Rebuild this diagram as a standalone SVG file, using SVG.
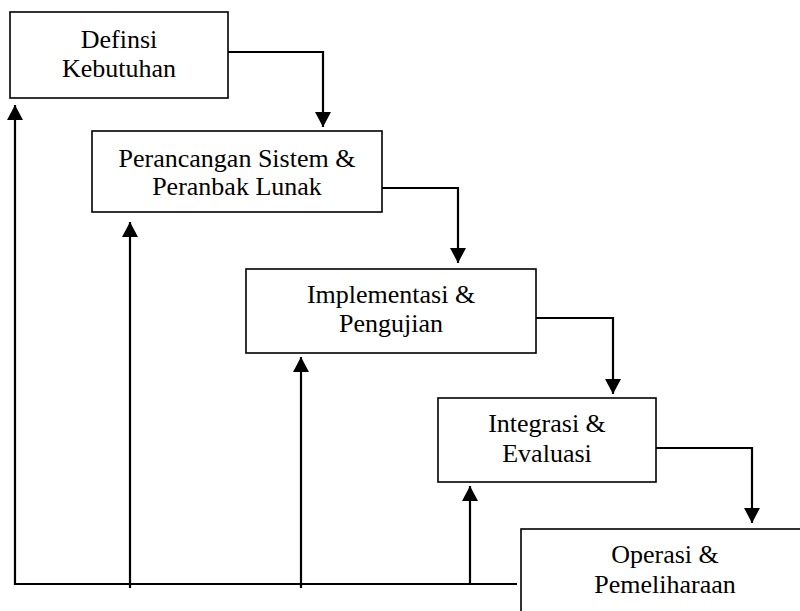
<svg xmlns="http://www.w3.org/2000/svg" width="800" height="611" viewBox="0 0 800 611">
<style>
.box{fill:#fff;stroke:#000;stroke-width:1.6}
.lbl{font-family:"Liberation Serif","Times New Roman",serif;font-size:26px;fill:#000;text-anchor:middle}
.con{fill:none;stroke:#000;stroke-width:2.2}
</style>
<defs>
<marker id="ah" viewBox="0 0 15 16" markerWidth="15" markerHeight="16" refX="15" refY="8" orient="auto" markerUnits="userSpaceOnUse">
<path d="M0,0 L15,8 L0,16 z" fill="#000"/>
</marker>
</defs>
<rect width="800" height="611" fill="#fff"/>
<g id="n1">
<rect class="box" x="10" y="12" width="218" height="86"/>
<text class="lbl" x="119" y="48">Definsi</text>
<text class="lbl" x="119" y="77">Kebutuhan</text>
</g>
<g id="n2">
<rect class="box" x="92" y="131" width="290" height="81"/>
<text class="lbl" x="237" y="167">Perancangan Sistem &amp;</text>
<text class="lbl" x="237" y="195">Peranbak Lunak</text>
</g>
<g id="n3">
<rect class="box" x="246" y="269" width="290" height="84"/>
<text class="lbl" x="391" y="303">Implementasi &amp;</text>
<text class="lbl" x="391" y="332">Pengujian</text>
</g>
<g id="n4">
<rect class="box" x="438" y="398" width="218" height="84"/>
<text class="lbl" x="547" y="432">Integrasi &amp;</text>
<text class="lbl" x="547" y="462">Evaluasi</text>
</g>
<g id="n5">
<rect class="box" x="521" y="529" width="290" height="100"/>
<text class="lbl" x="665" y="563">Operasi &amp;</text>
<text class="lbl" x="665" y="593">Pemeliharaan</text>
</g>
<g id="connectors">
<path class="con" d="M228,52 H323 V127" marker-end="url(#ah)"/>
<path class="con" d="M382,188 H458 V263" marker-end="url(#ah)"/>
<path class="con" d="M536,318 H613 V394" marker-end="url(#ah)"/>
<path class="con" d="M656,448 H752 V523" marker-end="url(#ah)"/>
<path class="con" d="M517,584 H15 V105" marker-end="url(#ah)"/>
<path class="con" d="M130,588 V222" marker-end="url(#ah)"/>
<path class="con" d="M301,588 V357" marker-end="url(#ah)"/>
<path class="con" d="M470,583 V486" marker-end="url(#ah)"/>
</g>
</svg>
